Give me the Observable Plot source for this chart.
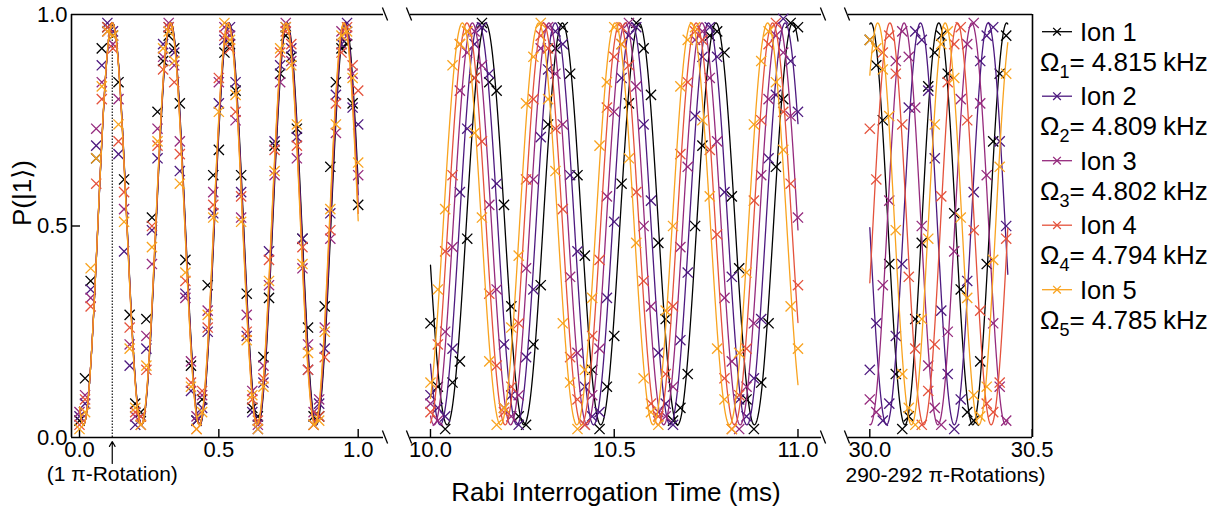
<!DOCTYPE html>
<html><head><meta charset="utf-8">
<script src="https://cdn.jsdelivr.net/npm/d3@7"></script>
<script src="https://cdn.jsdelivr.net/npm/@observablehq/plot@0.6"></script>
<style>
html,body{margin:0;padding:0;background:#fff;}
#chart{position:relative;width:1226px;height:514px;font-family:"Liberation Sans",Arial,"DejaVu Sans",sans-serif;color:#000;}
#chart svg{position:absolute;left:0;top:0;overflow:visible;}
</style></head><body><div id="chart"></div>
<script>
// ---------- labels / legend ----------
const ionNames = ["Ion 1", "Ion 2", "Ion 3", "Ion 4", "Ion 5"];
const omegaText = ["4.815", "4.809", "4.802", "4.794", "4.785"];
const ionColors = ["#000000", "#4d197f", "#952a7d", "#e4523c", "#f9a31f"];

// ---------- fit-curve parameters ----------
const fitFreq = [4.785, 4.794, 4.802, 4.809, 4.815]; // kHz
const fitDelay = 0.014;  // ms
const fitOffset = 0.03;
const fitAmp = 0.95;

// ---------- time axis ----------
const panelStarts = [0, 10, 30];
const panelEnds = [1.0, 11.0, 30.425];
const timeStep = 0.02;
const panelDomains = [[-0.0287, 1.0908], [9.9456, 11.064], [29.9344, 30.501]];
const panelTicks = [[0.0, 0.5, 1.0], [10.0, 10.5, 11.0], [30.0, 30.5]];
const yTicks = [0.0, 0.5, 1.0];
const piTime = 0.1175;

// ---------- measured P(|1>) values (one per 0.02 ms) ----------
const p1Ion1 = [.04,.14,.37,.66,.92,.97,.95,.84,.61,.29,.08,.06,.28,.52,.77,.89,.95,.92,.79,.42,.17,.04,.09,.36,.62,.68,.91,.93,.82,.62,.34,.07,.05,.19,.33,.69,.86,.95,.90,.73,.47,.26,.05,.05,.31,.64,.84,.92,.93,.79,.55];
const p1Ion2 = [.05,.08,.35,.69,.88,.98,.96,.67,.44,.17,.03,.05,.21,.49,.66,.93,.97,.91,.63,.34,.11,.04,.07,.25,.53,.79,.94,.97,.84,.58,.24,.06,.02,.13,.44,.70,.88,.97,.92,.71,.47,.16,.03,.08,.21,.53,.81,.93,.98,.78,.74];
const p1Ion3 = [.06,.10,.33,.73,.84,.96,.93,.80,.54,.22,.05,.03,.24,.41,.73,.90,.98,.88,.70,.33,.18,.05,.10,.30,.58,.84,.97,.95,.75,.52,.29,.11,.03,.17,.36,.62,.84,.98,.89,.66,.40,.22,.06,.09,.26,.47,.72,.96,.95,.86,.62];
const p1Ion4 = [.03,.09,.31,.60,.80,.97,.92,.70,.58,.26,.06,.05,.16,.50,.69,.87,.97,.84,.67,.37,.13,.02,.11,.26,.55,.85,.95,.92,.77,.57,.25,.09,.04,.14,.42,.68,.91,.96,.93,.69,.45,.16,.03,.05,.19,.49,.79,.91,.97,.88,.82];
const p1Ion5 = [.02,.06,.40,.66,.83,.96,.95,.74,.51,.21,.07,.03,.17,.45,.70,.92,.96,.89,.60,.39,.12,.02,.06,.29,.52,.77,.98,.94,.81,.51,.23,.10,.02,.12,.37,.63,.92,.97,.88,.74,.41,.20,.03,.04,.25,.54,.74,.95,.96,.85,.65];

const p2Ion1 = [.27,.12,.02,.13,.18,.47,.85,.98,.84,.82,.55,.31,.05,.03,.22,.36,.74,.92,.97,.86,.62,.43,.16,.02,.12,.24,.60,.79,.98,.92,.81,.46,.28,.04,.07,.15,.50,.69,.95,.96,.91,.57,.40,.09,.02,.13,.27,.64,.80,.98,.97];
const p2Ion2 = [.10,.07,.05,.21,.58,.73,.93,.97,.86,.60,.22,.10,.03,.19,.35,.71,.87,.96,.93,.62,.44,.12,.05,.06,.33,.51,.85,.95,.97,.74,.56,.20,.08,.03,.23,.39,.76,.90,.97,.90,.58,.38,.09,.05,.14,.28,.66,.81,.99,.89,.77];
const p2Ion3 = [.08,.04,.25,.45,.82,.91,.96,.88,.55,.35,.07,.05,.10,.40,.61,.92,.97,.86,.74,.38,.20,.03,.10,.21,.57,.77,.93,.98,.83,.50,.31,.06,.05,.12,.45,.64,.94,.96,.85,.70,.33,.18,.02,.12,.27,.62,.80,.95,.91,.76,.52];
const p2Ion4 = [.06,.22,.44,.62,.93,.96,.85,.70,.34,.17,.06,.12,.27,.61,.80,.95,.92,.73,.54,.19,.09,.03,.24,.42,.78,.90,.97,.88,.58,.37,.08,.05,.15,.31,.67,.84,.96,.94,.68,.48,.14,.02,.10,.21,.56,.75,.93,.98,.77,.60,.36];
const p2Ion5 = [.13,.35,.54,.88,.93,.96,.72,.52,.18,.03,.07,.26,.43,.79,.90,.98,.80,.63,.27,.13,.02,.16,.33,.69,.84,.97,.93,.66,.46,.14,.06,.03,.30,.50,.83,.94,.97,.75,.57,.21,.09,.02,.20,.39,.74,.89,.96,.84,.68,.31,.21];

const p3Ion1 = [.94,.88,.75,.41,.15,.02,.05,.28,.46,.83,.91,.95,.86,.53,.35,.06,.04,.18,.41,.70,.86,.95];
const p3Ion2 = [.16,.27,.04,.08,.24,.41,.78,.96,.94,.82,.66,.30,.15,.02,.09,.37,.58,.89,.95,.97,.70,.50];
const p3Ion3 = [.09,.06,.36,.56,.89,.96,.90,.78,.50,.17,.07,.03,.25,.44,.80,.93,.98,.79,.62,.27,.12,.04];
const p3Ion4 = [.73,.61,.91,.95,.86,.74,.38,.21,.03,.11,.22,.57,.84,.93,.97,.75,.49,.30,.08,.06,.13,.47];
const p3Ion5 = [.94,.92,.87,.76,.49,.15,.07,.03,.28,.47,.74,.93,.96,.85,.52,.33,.10,.05,.12,.42,.64,.86];

const panelData = [
  [p1Ion1, p1Ion2, p1Ion3, p1Ion4, p1Ion5],
  [p2Ion1, p2Ion2, p2Ion3, p2Ion4, p2Ion5],
  [p3Ion1, p3Ion2, p3Ion3, p3Ion4, p3Ion5]
];

// ---------- layout ----------
const W = 1226, H = 514, MT = 14, MB = 77;
const frames = [[71, 383], [410, 821], [848, 1032]];
const FONT = '"Liberation Sans", Arial, "DejaVu Sans", sans-serif';

function fitCurve(k, t0, t1) {
  const n = Math.round((t1 - t0) / 0.001);
  return d3.range(n + 1).map(j => {
    const t = t0 + (j * (t1 - t0)) / n;
    return {t, P: fitOffset + fitAmp * Math.sin(Math.PI * fitFreq[k] * (t - fitDelay)) ** 2};
  });
}
function points(p, k) {
  return panelData[p][k].map((P, i) => ({t: panelStarts[p] + timeStep * i, P}));
}

const chart = document.getElementById("chart");
const fmt = d3.format(".1f");

for (let p = 0; p < 3; p++) {
  const [fl, fr] = frames[p];
  const frameH = H - MT - MB;
  const marks = [];
  marks.push(Plot.ruleY([0, 1], {stroke: "#000", strokeWidth: 1.6}));
  if (p === 0) marks.push(Plot.ruleX([panelDomains[0][0]], {stroke: "#000", strokeWidth: 1.6}));
  if (p === 2) marks.push(Plot.ruleX([panelDomains[2][1]], {stroke: "#000", strokeWidth: 1.6}));
  marks.push(Plot.tickX(panelTicks[p], {x: d => d, insetTop: frameH - 8, stroke: "#000", strokeWidth: 1.4}));
  marks.push(Plot.axisX(panelTicks[p], {tickSize: 0, tickPadding: 4, tickFormat: fmt, fontSize: 22, label: null}));
  if (p === 0) {
    marks.push(Plot.axisY(yTicks, {tickSize: 0, tickPadding: 4, tickFormat: fmt, fontSize: 22, label: null}));
    marks.push(Plot.tickY([0.5], {y: d => d, insetRight: (fr - fl) - 9, stroke: "#000", strokeWidth: 1.4}));
    marks.push(Plot.ruleX([piTime], {x: d => d, y1: 0, y2: 0.975, stroke: "#000", strokeWidth: 1.1, strokeDasharray: "1.5,1.5"}));
  }
  for (let k = 0; k < 5; k++) {
    marks.push(Plot.line(fitCurve(k, panelStarts[p], panelEnds[p]), {x: "t", y: "P", stroke: ionColors[k], strokeWidth: 1.3}));
    marks.push(Plot.dot(points(p, k), {x: "t", y: "P", symbol: "times", r: 4.7, stroke: ionColors[k], strokeWidth: 1.3}));
  }
  if (p === 0) {
    marks.push(Plot.arrow([piTime], {x1: d => d, x2: d => d, y1: () => -0.0615, y2: () => -0.0095, stroke: "#000", strokeWidth: 1.2, headLength: 7}));
    marks.push(Plot.text([piTime], {x: d => d, frameAnchor: "bottom", dy: 43, text: () => "(1 π-Rotation)", fontSize: 21}));
    marks.push(Plot.text(["P(|1⟩)"], {frameAnchor: "left", dx: -49, rotate: -90, text: d => d, fontSize: 26}));
  }
  if (p === 1) {
    marks.push(Plot.text(["Rabi Interrogation Time (ms)"], {frameAnchor: "bottom", dy: 63, text: d => d, fontSize: 26}));
  }
  if (p === 2) {
    marks.push(Plot.text(["290-292 π-Rotations)"], {frameAnchor: "bottom-left", dx: -3, dy: 44, textAnchor: "start", text: d => d, fontSize: 21}));
  }

  const svg = Plot.plot({
    width: W, height: H,
    marginTop: MT, marginBottom: MB, marginLeft: fl, marginRight: W - fr,
    style: {background: "transparent", fontFamily: FONT, fontSize: "22px", color: "#000", overflow: "visible"},
    x: {domain: panelDomains[p], label: null, axis: null},
    y: {domain: [0, 1], label: null, axis: null},
    marks
  });
  chart.appendChild(svg);

  // axis-break slashes at the open ends of the frame
  const sx = svg.scale("x"), sy = svg.scale("y");
  const ends = [];
  if (p === 0) ends.push(sx.apply(panelDomains[p][1]) + 2);
  if (p === 1) { ends.push(sx.apply(panelDomains[p][0]) - 1); ends.push(sx.apply(panelDomains[p][1]) + 2); }
  if (p === 2) ends.push(sx.apply(panelDomains[p][0]) - 1);
  const g = d3.select(svg).append("g").attr("stroke", "#000").attr("stroke-width", 1.3);
  for (const ex of ends) for (const v of [0, 1]) {
    const ey = sy.apply(v);
    g.append("line").attr("x1", ex - 2.6).attr("y1", ey - 6.5).attr("x2", ex + 2.6).attr("y2", ey + 6.5);
  }
}

// ---------- legend ----------
const leg = d3.select(chart).append("svg")
  .attr("width", 196).attr("height", 340)
  .style("left", "1030px").style("top", "0px")
  .style("font-family", FONT);
ionNames.forEach((name, k) => {
  const y = 31.7 + 64.5 * k;
  const g = leg.append("g").attr("transform", `translate(0,${y})`);
  g.append("line").attr("x1", 12).attr("x2", 42).attr("stroke", ionColors[k]).attr("stroke-width", 1.3);
  g.append("path").attr("d", d3.symbol(d3.symbolTimes, 40)()).attr("transform", "translate(27,0)")
    .attr("stroke", ionColors[k]).attr("fill", "none").attr("stroke-width", 1.3);
  g.append("text").attr("x", 50).attr("dy", "0.35em").attr("font-size", 25.5).text(name);
  const t = g.append("text").attr("x", 10).attr("y", 30).attr("dy", "0.35em").attr("font-size", 26);
  t.append("tspan").text("Ω");
  t.append("tspan").attr("font-size", 18).attr("dy", 7).text(String(k + 1));
  t.append("tspan").attr("dy", -7).text("= " + omegaText[k]);
  t.append("tspan").attr("dx", 6).text("kHz");
});
</script></body></html>
